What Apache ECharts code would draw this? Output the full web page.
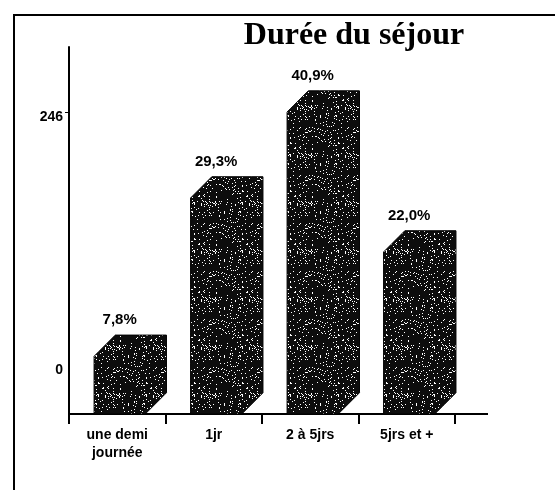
<!DOCTYPE html>
<html lang="fr">
<head>
<meta charset="UTF-8">
<title>Durée du séjour</title>
<script src="https://cdn.jsdelivr.net/npm/echarts@6/dist/echarts.min.js"></script>
<style>
    html, body, #content {
        width: 100%;
        height: 100%;
        margin: 0;
        background: #fff;
    }
</style>
</head>
<body>
<div id="content"></div>
<script>
// données
var categories = ['une demi\njournée', '1jr', '2 à 5jrs', '5jrs et +'];
var effectifs = [47, 176, 246, 132];
var yTicks = [0, 246];

var total = effectifs.reduce(function (a, b) { return a + b; }, 0);
var sansFont = '"Liberation Sans", Arial, sans-serif';

// texture mouchetée (points blancs sur fond noir), générateur déterministe
function makeSpeckle() {
    var c = document.createElement('canvas');
    c.width = 48; c.height = 48;
    var ctx = c.getContext('2d');
    ctx.fillStyle = '#0d0d0d';
    ctx.fillRect(0, 0, 48, 48);
    ctx.fillStyle = '#fff';
    var s = 12345;
    for (var i = 0; i < 190; i++) {
        s = (s * 16807) % 2147483647;
        var x = s % 48;
        s = (s * 16807) % 2147483647;
        var y = s % 48;
        ctx.fillRect(x, y, 1, 1);
    }
    return c;
}
var speckle = { image: makeSpeckle(), repeat: 'repeat' };

function pct(v) {
    return (v / total * 100).toFixed(1).replace('.', ',') + '%';
}

// barre en perspective : face avant + dessus + côté
function renderBar(params, api) {
    var i = api.value(0), v = api.value(1);
    var top = api.coord([i, v]);
    var base = api.coord([i, 0]);
    var band = api.size([1, 0])[0];
    var d = band * 0.22;
    var L = top[0] - band * 0.24, R = top[0] + band * 0.29;
    return {
        type: 'group',
        children: [{
            type: 'polygon',
            shape: { points: [
                [L, top[1]], [L + d, top[1] - d], [R + d, top[1] - d],
                [R + d, base[1] - d], [R, base[1]], [L, base[1]]
            ] },
            style: { fill: speckle, stroke: '#000', lineWidth: 1 }
        }, {
            type: 'text',
            style: {
                text: pct(v),
                x: (L + R) / 2,
                y: top[1] - d - 15,
                align: 'center',
                verticalAlign: 'middle',
                font: 'bold 15px ' + sansFont,
                fill: '#000'
            }
        }]
    };
}

var chart = echarts.init(document.getElementById('content'));
chart.setOption({
    animation: false,
    title: {
        text: 'Durée du séjour',
        left: 349,
        top: 15,
        textAlign: 'center',
        textStyle: {
            fontFamily: '"Liberation Serif", "Times New Roman", serif',
            fontSize: 32,
            fontWeight: 'bold',
            color: '#000'
        }
    },
    graphic: [{
        type: 'polyline',
        shape: { points: [[14, 490], [14, 15], [560, 15]] },
        style: { stroke: '#000', lineWidth: 2, fill: null }
    }, {
        type: 'line',
        shape: { x1: 455, y1: 414, x2: 488, y2: 414 },
        style: { stroke: '#000', lineWidth: 2 }
    }],
    grid: [
        { left: 69, right: 100, top: 47, bottom: 85 },
        { left: 69, right: 100, top: 117, bottom: 129 }
    ],
    xAxis: [{
        gridIndex: 0,
        type: 'category',
        data: categories,
        axisLine: { lineStyle: { color: '#000', width: 2 } },
        axisTick: { show: true, length: 10, lineStyle: { color: '#000', width: 2 } },
        axisLabel: {
            interval: 0,
            color: '#000',
            fontFamily: sansFont,
            fontWeight: 'bold',
            fontSize: 14,
            lineHeight: 18,
            margin: 12
        }
    }, {
        gridIndex: 1,
        type: 'category',
        data: categories,
        show: false
    }],
    yAxis: [{
        gridIndex: 0,
        type: 'value',
        min: 0,
        max: 299,
        axisLine: { show: true, lineStyle: { color: '#000', width: 2 } },
        axisTick: { show: true, length: 4, customValues: [246], lineStyle: { color: '#000' } },
        axisLabel: { show: false },
        splitLine: { show: false }
    }, {
        gridIndex: 1,
        type: 'value',
        min: 0,
        max: 246,
        axisLine: { show: false },
        axisTick: { show: false },
        axisLabel: {
            customValues: yTicks,
            color: '#000',
            fontFamily: sansFont,
            fontWeight: 'bold',
            fontSize: 14,
            margin: 6
        },
        splitLine: { show: false }
    }],
    series: [{
        type: 'custom',
        xAxisIndex: 0,
        yAxisIndex: 0,
        clip: false,
        renderItem: renderBar,
        encode: { x: 0, y: 1 },
        data: effectifs.map(function (v, i) { return [i, v]; })
    }]
});
window.onresize = chart.resize;
</script>
</body>
</html>
